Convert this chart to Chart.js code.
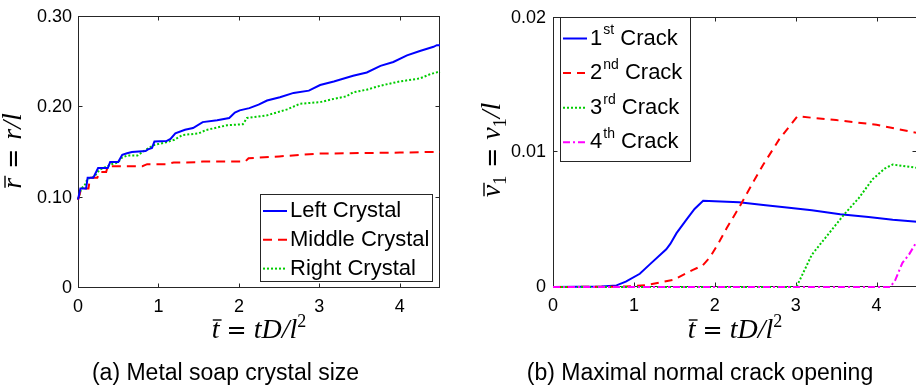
<!DOCTYPE html>
<html>
<head>
<meta charset="utf-8">
<title>Crystal size and crack opening</title>
<script src="https://cdn.jsdelivr.net/npm/chart.js@4.4.1/dist/chart.umd.min.js"></script>
<style>
html, body { margin: 0; padding: 0; background: #fff; }
body { width: 916px; height: 390px; overflow: hidden; position: relative; }
canvas { position: absolute; top: 0; }
#sizeChart { left: 0; }
#crackChart { left: 456px; }
</style>
</head>
<body>
<canvas id="sizeChart" width="458" height="390"></canvas>
<canvas id="crackChart" width="462" height="390"></canvas>
<script>
// (a) crystal size r/l against t
var leftT   = [0, 0.03, 0.10, 0.12, 0.19, 0.25, 0.37, 0.40, 0.50, 0.55, 0.61, 0.67, 0.84, 0.87, 0.92, 0.95, 1.10, 1.15, 1.21, 1.33, 1.43, 1.55, 1.73, 1.88, 1.95, 2.01, 2.13, 2.245, 2.35, 2.51, 2.68, 2.87, 3.01, 3.18, 3.42, 3.59, 3.76, 3.92, 4.09, 4.25, 4.42, 4.46, 4.5];
var leftR   = [0.098, 0.11, 0.11, 0.122, 0.122, 0.1327, 0.1327, 0.1393, 0.1393, 0.1473, 0.149, 0.1505, 0.1515, 0.1534, 0.155, 0.162, 0.1625, 0.165, 0.171, 0.175, 0.177, 0.1835, 0.1855, 0.188, 0.194, 0.1965, 0.199, 0.2028, 0.2074, 0.211, 0.2158, 0.2183, 0.2245, 0.2285, 0.2347, 0.2384, 0.2457, 0.25, 0.2573, 0.2621, 0.2668, 0.2686, 0.2686];
var middleT = [0, 0.04, 0.13, 0.15, 0.24, 0.27, 0.35, 0.37, 0.80, 0.86, 1.10, 1.19, 1.50, 1.55, 2.08, 2.12, 2.50, 2.76, 3.00, 4.00, 4.42, 4.5];
var middleR = [0.0975, 0.11, 0.11, 0.122, 0.122, 0.1283, 0.1283, 0.1348, 0.1348, 0.137, 0.137, 0.1389, 0.139, 0.140, 0.140, 0.1436, 0.1455, 0.1473, 0.1487, 0.1498, 0.1505, 0.1505];
var rightT  = [0, 0.04, 0.08, 0.12, 0.20, 0.27, 0.35, 0.42, 0.50, 0.54, 0.61, 0.74, 0.82, 0.94, 1.10, 1.20, 1.30, 1.50, 1.59, 1.85, 2.05, 2.10, 2.35, 2.60, 2.76, 3.01, 3.18, 3.34, 3.42, 3.59, 3.76, 4.00, 4.25, 4.38, 4.5];
var rightR  = [0.098, 0.11, 0.113, 0.121, 0.123, 0.131, 0.134, 0.137, 0.139, 0.1438, 0.1466, 0.1466, 0.1516, 0.158, 0.1613, 0.164, 0.1692, 0.171, 0.1747, 0.18, 0.1812, 0.188, 0.191, 0.1976, 0.2038, 0.2056, 0.2092, 0.2121, 0.2165, 0.2194, 0.2238, 0.2285, 0.2318, 0.2366, 0.2395];
var sizeNames = ['Left Crystal', 'Middle Crystal', 'Right Crystal'];
var sizeTicks = [0, 0.1, 0.2, 0.3];
var sizeTickLabels = ['0', '0.10', '0.20', '0.30'];

// (b) maximal normal crack opening v1/l against t
var crack1T = [0, 0.6, 0.785, 0.9, 1.073, 1.2, 1.4, 1.45, 1.527, 1.65, 1.75, 1.856, 2.0, 2.3, 2.6, 2.89, 3.2, 3.55, 3.9, 4.2, 4.5];
var crack1V = [0, 0.00003, 0.00012, 0.0004, 0.00098, 0.0017, 0.0028, 0.0032, 0.0040, 0.0050, 0.0058, 0.0064, 0.00637, 0.0063, 0.0061, 0.0059, 0.0057, 0.0054, 0.0052, 0.0050, 0.00485];
var crack2T = [0, 0.9, 1.16, 1.49, 1.73, 1.85, 1.94, 2.05, 2.15, 2.3, 2.475, 2.6, 2.8, 3.02, 3.5, 4.0, 4.5];
var crack2V = [0, 0.00003, 0.00015, 0.00054, 0.00127, 0.0016, 0.0022, 0.0033, 0.0044, 0.0059, 0.0078, 0.0091, 0.011, 0.01268, 0.0124, 0.01205, 0.01145];
var crack3T = [0, 3.01, 3.2, 3.4, 3.6, 3.78, 3.95, 4.1, 4.2, 4.5];
var crack3V = [0, 0, 0.0024, 0.0039, 0.0054, 0.0066, 0.0080, 0.0088, 0.0091, 0.00885];
var crack4T = [0, 4.17, 4.23, 4.32, 4.4, 4.5];
var crack4V = [0, 0, 0.0005, 0.0018, 0.0024, 0.0034];
var crackNames = ['1st Crack', '2nd Crack', '3rd Crack', '4th Crack'];
var openTicks = [0, 0.01, 0.02];
var openTickLabels = ['0', '0.01', '0.02'];

var timeTicks = [0, 1, 2, 3, 4];
var timeTickLabels = ['0', '1', '2', '3', '4'];

Chart.defaults.font.family = '"Liberation Sans", Arial, sans-serif';
Chart.defaults.color = '#000';

var AXIS = '#262626';
var IT = 'italic 28px "Liberation Serif"';
var EQ = '24px "DejaVu Sans"';
var SMALL = '18px "Liberation Serif"';

function points(ts, vs) {
	return ts.map(function (t, i) { return { x: t, y: vs[i] }; });
}

function lineSet(label, ts, vs, color, dash, order) {
	return {
		label: label,
		data: points(ts, vs),
		borderColor: color,
		borderWidth: 2,
		borderDash: dash,
		pointRadius: 0,
		tension: 0,
		fill: false,
		clip: 2,
		order: order
	};
}

// draws a math label made of pieces, centred on (cx, cy), optionally rotated
function drawMath(ctx, parts, cx, cy, rotate) {
	ctx.save();
	ctx.translate(cx, cy);
	if (rotate) ctx.rotate(-Math.PI / 2);
	ctx.textBaseline = 'alphabetic';
	ctx.textAlign = 'left';
	ctx.fillStyle = '#000';
	var total = 0;
	parts.forEach(function (p) {
		if (p.gap) { total += p.gap; return; }
		ctx.font = p.font;
		p.w = ctx.measureText(p.s).width;
		total += p.w;
	});
	var x = -total / 2;
	parts.forEach(function (p) {
		if (p.gap) { x += p.gap; return; }
		ctx.font = p.font;
		ctx.fillText(p.s, x, p.dy || 0);
		if (p.bar) {
			ctx.strokeStyle = '#000';
			ctx.lineWidth = 1.4;
			ctx.beginPath();
			ctx.moveTo(x + 1, -p.bar);
			ctx.lineTo(x + p.w + 2, -p.bar);
			ctx.stroke();
		}
		x += p.w;
	});
	ctx.restore();
}

function timeLabel() {
	return [
		{ s: 't', font: IT, bar: 18 }, { gap: 7 }, { s: '=', font: EQ }, { gap: 7 },
		{ s: 't', font: IT }, { s: 'D', font: IT }, { s: '/', font: IT }, { s: 'l', font: IT },
		{ s: '2', font: SMALL, dy: -11 }
	];
}

// axes box with inward ticks, drawn under the data like MATLAB does
var framePlugin = {
	id: 'frame',
	beforeDatasetsDraw: function (chart) {
		var ctx = chart.ctx, a = chart.chartArea;
		var xs = chart.scales.x, ys = chart.scales.y;
		var l = Math.round(a.left) + 0.5, r = Math.round(a.right) - 0.5;
		var t = Math.round(a.top) - 0.5, b = Math.round(a.bottom) - 0.5;
		ctx.save();
		ctx.strokeStyle = AXIS;
		ctx.lineWidth = 1;
		ctx.strokeRect(l, t, r - l, b - t);
		ctx.beginPath();
		xs.ticks.forEach(function (tk) {
			var x = Math.round(xs.getPixelForValue(tk.value)) + 0.5;
			ctx.moveTo(x, b); ctx.lineTo(x, b - 4);
			ctx.moveTo(x, t); ctx.lineTo(x, t + 4);
		});
		ys.ticks.forEach(function (tk) {
			var y = Math.round(ys.getPixelForValue(tk.value)) - 0.5;
			ctx.moveTo(l, y); ctx.lineTo(l + 4, y);
			ctx.moveTo(r, y); ctx.lineTo(r - 4, y);
		});
		ctx.stroke();
		ctx.restore();
	}
};

function legendPlugin(box) {
	return {
		id: 'boxLegend',
		afterDraw: function (chart) {
			var ctx = chart.ctx;
			ctx.save();
			ctx.fillStyle = '#fff';
			ctx.fillRect(box.x, box.y, box.w, box.h);
			ctx.strokeStyle = AXIS;
			ctx.lineWidth = 1;
			ctx.strokeRect(box.x + 0.5, box.y + 0.5, box.w, box.h);
			chart.data.datasets.forEach(function (ds, i) {
				var y = box.row0 + i * box.step;
				ctx.strokeStyle = ds.borderColor;
				ctx.lineWidth = 2;
				ctx.setLineDash(ds.borderDash || []);
				ctx.beginPath();
				ctx.moveTo(box.x + 3, y);
				ctx.lineTo(box.x + 27, y);
				ctx.stroke();
				ctx.setLineDash([]);
				ctx.fillStyle = '#000';
				ctx.textBaseline = 'middle';
				ctx.textAlign = 'left';
				var x = box.x + 30;
				var m = /^(\d+)(st|nd|rd|th)(.*)$/.exec(ds.label);
				ctx.font = '22px "Liberation Sans"';
				if (m) {
					ctx.fillText(m[1], x, y);
					x += ctx.measureText(m[1]).width + 1;
					ctx.font = '14px "Liberation Sans"';
					ctx.fillText(m[2], x, y - 8);
					x += ctx.measureText(m[2]).width;
					ctx.font = '22px "Liberation Sans"';
					ctx.fillText(m[3], x, y);
				} else {
					ctx.fillText(ds.label, x, y);
				}
			});
			ctx.restore();
		}
	};
}

function textPlugin(yParts, yPos, caption, capX) {
	return {
		id: 'texts',
		afterDraw: function (chart) {
			var ctx = chart.ctx, a = chart.chartArea;
			drawMath(ctx, timeLabel(), (a.left + a.right) / 2, 338, false);
			drawMath(ctx, yParts, yPos[0], yPos[1], true);
			ctx.save();
			ctx.font = '23px "Liberation Sans"';
			ctx.fillStyle = '#000';
			ctx.textAlign = 'center';
			ctx.textBaseline = 'alphabetic';
			ctx.fillText(caption, capX, 380);
			ctx.restore();
		}
	};
}

function scales(yMax, yTicks, yLabels, yWidth, yPad) {
	return {
		x: {
			type: 'linear', min: 0, max: 4.5,
			grid: { display: false, drawTicks: false },
			border: { display: false },
			ticks: {
				padding: 8, maxRotation: 0, autoSkip: false, color: '#000',
				font: { size: 18 },
				callback: function (v) { return timeTickLabels[timeTicks.indexOf(v)]; }
			},
			afterBuildTicks: function (s) { s.ticks = timeTicks.map(function (v) { return { value: v }; }); },
			afterFit: function (s) { s.height = 40; }
		},
		y: {
			type: 'linear', min: 0, max: yMax,
			grid: { display: false, drawTicks: false },
			border: { display: false },
			ticks: {
				padding: yPad, autoSkip: false, color: '#000',
				font: { size: 18 },
				callback: function (v) { return yLabels[yTicks.indexOf(v)]; }
			},
			afterBuildTicks: function (s) { s.ticks = yTicks.map(function (v) { return { value: v }; }); },
			afterFit: function (s) { s.width = yWidth; }
		}
	};
}

var baseOptions = function (pad, sc) {
	return {
		responsive: false,
		animation: false,
		devicePixelRatio: 1,
		layout: { padding: pad },
		plugins: { legend: { display: false }, tooltip: { enabled: false } },
		scales: sc
	};
};

new Chart(document.getElementById('sizeChart'), {
	type: 'line',
	data: {
		datasets: [
			lineSet(sizeNames[0], leftT, leftR, '#0000ff', [], 1),
			lineSet(sizeNames[1], middleT, middleR, '#ff0000', [9, 6], 2),
			lineSet(sizeNames[2], rightT, rightR, '#00cc00', [2, 2], 3)
		]
	},
	options: baseOptions({ top: 14, right: 18, bottom: 62, left: 0 },
		scales(0.3, sizeTicks, sizeTickLabels, 78, 6)),
	plugins: [
		framePlugin,
		legendPlugin({ x: 260, y: 194, w: 172, h: 87, row0: 211, step: 28.8 }),
		textPlugin([
			{ s: 'r', font: IT, bar: 16 }, { gap: 9 }, { s: '=', font: EQ }, { gap: 9 },
			{ s: 'r', font: IT }, { s: '/', font: IT }, { s: 'l', font: IT }
		], [21, 151], '(a) Metal soap crystal size', 225.5)
	]
});

new Chart(document.getElementById('crackChart'), {
	type: 'line',
	data: {
		datasets: [
			lineSet(crackNames[0], crack1T, crack1V, '#0000ff', [], 4),
			lineSet(crackNames[1], crack2T, crack2V, '#ff0000', [8, 6], 3),
			lineSet(crackNames[2], crack3T, crack3V, '#00cc00', [2, 2], 2),
			lineSet(crackNames[3], crack4T, crack4V, '#ff00ff', [7, 3, 2, 3], 1)
		]
	},
	options: baseOptions({ top: 14, right: 1, bottom: 63, left: 0 },
		scales(0.02, openTicks, openTickLabels, 97, 7)),
	plugins: [
		framePlugin,
		legendPlugin({ x: 104, y: 17, w: 130, h: 144, row0: 38.5, step: 34.6 }),
		textPlugin([
			{ s: 'v', font: IT, bar: 16 }, { s: '1', font: SMALL, dy: 6 }, { gap: 8 }, { s: '=', font: EQ }, { gap: 8 },
			{ s: 'v', font: IT }, { s: '1', font: SMALL, dy: 6 }, { s: '/', font: IT }, { s: 'l', font: IT }
		], [44, 150], '(b) Maximal normal crack opening', 244)
	]
});
</script>
</body>
</html>
